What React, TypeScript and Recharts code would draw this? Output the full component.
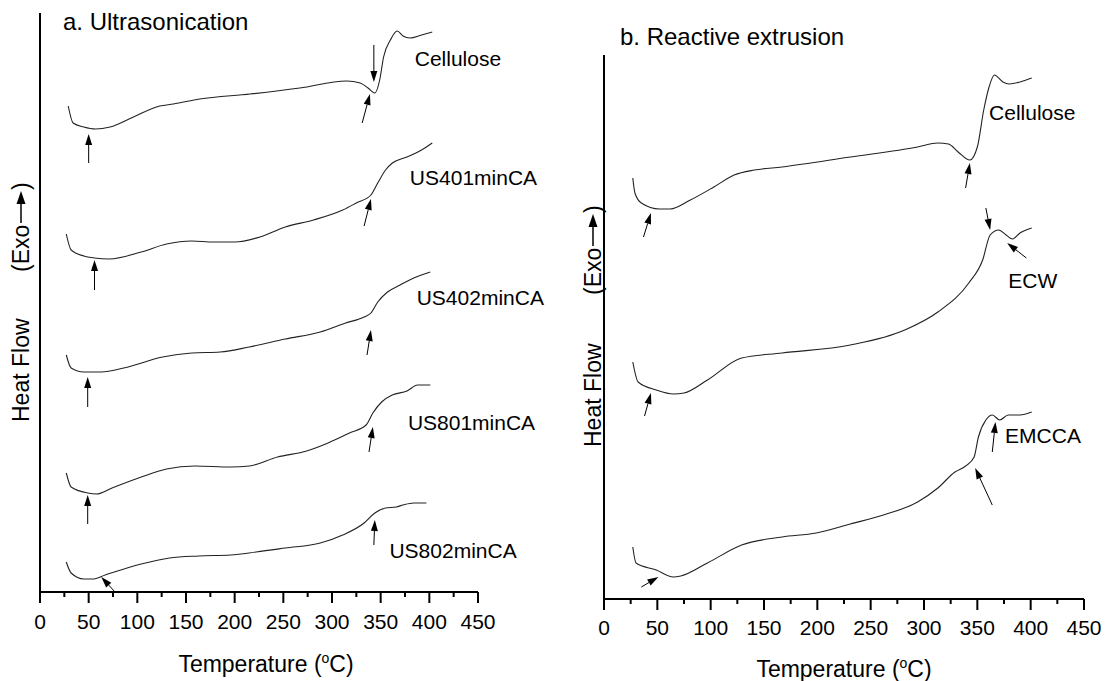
import React from 'react';
import { LineChart, Line, XAxis, YAxis, ReferenceLine, ReferenceDot } from 'recharts';

const FONT = '"Liberation Sans", Arial, Helvetica, sans-serif';

type Row = [number, number];

// temperature axis, minor ticks every 25 °C, labelled every 50 °C
const tempTicks = [0, 25, 50, 75, 100, 125, 150, 175, 200, 225, 250, 275, 300, 325, 350, 375, 400, 425, 450];

// (a) ultrasonication – [temperature °C, heat flow a.u.], traces stacked
const usCellulose: Row[] = [
  [29, 486], [34, 469], [45, 465], [57, 463], [72, 465], [96, 475], [123, 486], [137, 488],
  [164, 493], [216, 498], [267, 504], [315, 511], [329, 509], [337, 504], [344, 499], [349, 512],
  [353, 535], [360, 552], [367, 561], [373, 556], [380, 554], [392, 557], [403, 560],
];
const us401: Row[] = [
  [27, 358], [32, 342], [45, 336], [56, 334], [71, 333], [104, 340], [130, 348], [156, 351],
  [178, 350], [200, 350], [226, 355], [252, 365], [281, 372], [311, 382], [325, 389], [340, 397],
  [347, 409], [355, 422], [362, 429], [377, 435], [392, 442], [403, 449],
];
const us402: Row[] = [
  [27, 237], [32, 224], [45, 220], [63, 220], [86, 224], [126, 235], [156, 239], [185, 240],
  [215, 245], [252, 253], [288, 260], [314, 269], [333, 275], [340, 279], [347, 290], [357, 300],
  [370, 307], [384, 314], [401, 320],
];
const us801: Row[] = [
  [27, 119], [32, 105], [49, 99], [58, 98], [74, 104], [104, 115], [130, 123], [159, 126],
  [196, 125], [215, 126], [244, 135], [274, 141], [296, 149], [318, 159], [335, 167], [342, 179],
  [351, 190], [362, 197], [377, 201], [388, 207], [401, 207],
];
const us802: Row[] = [
  [27, 30], [32, 19], [45, 13], [54, 13], [67, 17], [104, 28], [133, 34], [163, 36],
  [196, 37], [222, 40], [252, 44], [288, 49], [311, 57], [333, 69], [344, 79], [355, 84],
  [366, 85], [373, 87], [384, 89], [397, 89],
];

// (b) reactive extrusion
const reCellulose: Row[] = [
  [27, 421], [29, 406], [35, 396], [52, 390], [62, 390], [81, 399], [103, 412], [122, 424],
  [141, 429], [167, 432], [231, 442], [294, 452], [313, 456], [323, 455], [332, 447], [343, 439],
  [350, 452], [356, 489], [361, 512], [366, 524], [374, 517], [380, 515], [390, 517], [401, 521],
];
const reEcw: Row[] = [
  [27, 237], [32, 217], [49, 209], [65, 205], [75, 206], [97, 219], [129, 241], [167, 246],
  [231, 254], [282, 269], [313, 287], [342, 316], [355, 339], [362, 364], [370, 369], [377, 364],
  [383, 360], [390, 366], [401, 371],
];
const reEmcca: Row[] = [
  [27, 52], [30, 36], [49, 29], [65, 22], [72, 23], [97, 36], [129, 54], [167, 62],
  [199, 66], [231, 75], [262, 84], [294, 97], [313, 111], [329, 127], [339, 133], [347, 142],
  [351, 162], [358, 179], [364, 184], [371, 179], [379, 184], [390, 184], [401, 187],
];

// arrows marking transitions: [tail T, tail hf, tip T, tip hf]
const usArrows: [number, number, number, number][] = [
  [50, 429, 50, 458], [343, 547, 343, 510], [331, 469, 339, 498],
  [56, 302, 56, 332], [333, 366, 340, 393],
  [49, 185, 49, 215], [336, 237, 340, 262],
  [49, 68, 49, 97], [338, 140, 342, 165],
  [78, -1, 63, 15], [343, 47, 344, 72],
];
const reArrows: [number, number, number, number][] = [
  [37, 362, 44, 386], [339, 411, 343, 436],
  [38, 183, 44, 206], [358, 391, 362, 369], [396, 341, 378, 356],
  [35, 12, 51, 22], [364, 94, 348, 131], [364, 147, 367, 177],
];

// curve names
const usNames = ['Cellulose', 'US401minCA', 'US402minCA', 'US801minCA', 'US802minCA'];
const usNameAt: Row[] = [[385, 534], [380, 415], [387, 295], [378, 170], [359, 42]];
const reNames = ['Cellulose', 'ECW', 'EMCCA'];
const reNameAt: Row[] = [[361, 487], [379, 319], [376, 164]];

const toPts = (rows: Row[]) => rows.map(([t, hf]) => ({ t, hf }));

const TempTick = (props: any) => {
  const { x, y, payload, labelDy } = props;
  const major = payload.value % 50 === 0;
  return (
    <g>
      <line x1={x} y1={y} x2={x} y2={y + (major ? 11 : 5)} stroke="#000" strokeWidth={2} />
      {major && (
        <text x={x} y={y + labelDy} textAnchor="middle" fontSize={21} fontFamily={FONT} fill="#000">
          {payload.value}
        </text>
      )}
    </g>
  );
};

const TempTitle = (props: any) => {
  const { viewBox, cx, dy } = props;
  const vb = viewBox || { x: 0, y: 0 };
  return (
    <text x={vb.x + cx} y={vb.y + dy} textAnchor="middle" fontSize={23} fontFamily={FONT} fill="#000">
      Temperature (<tspan dy={-9} fontSize={14}>o</tspan><tspan dy={9}>C)</tspan>
    </text>
  );
};

const HeatFlowLabel = (props: any) => {
  const { bx, heatStart, exoStart } = props;
  return (
    <g fontFamily={FONT} fontSize={23} fill="#000">
      <text transform={`translate(${bx},${heatStart}) rotate(-90)`}>Heat Flow</text>
      <g transform={`translate(${bx},${exoStart}) rotate(-90)`}>
        <text x={0} y={0}>(Exo</text>
        <line x1={49} y1={-8} x2={70} y2={-8} stroke="#000" strokeWidth={1.5} />
        <polygon points="81,-8 68,-12.5 68,-3.5" fill="#000" />
        <text x={82} y={0}>)</text>
      </g>
    </g>
  );
};

const Arrow = (p: any) => {
  const { x1, y1, x2, y2 } = p;
  const dx = x2 - x1;
  const dy = y2 - y1;
  const len = Math.hypot(dx, dy) || 1;
  const ux = dx / len;
  const uy = dy / len;
  const hl = 11;
  const hw = 3.5;
  const bx = x2 - ux * hl;
  const by = y2 - uy * hl;
  return (
    <g>
      <line x1={x1} y1={y1} x2={bx} y2={by} stroke="#000" strokeWidth={1} />
      <polygon
        points={`${x2},${y2} ${bx - uy * hw},${by + ux * hw} ${bx + uy * hw},${by - ux * hw}`}
        fill="#000"
      />
    </g>
  );
};

const nameShape = (name: string) => (p: any) => (
  <text x={p.cx} y={p.cy} dominantBaseline="central" fontSize={21} fontFamily={FONT} fill="#000">
    {name}
  </text>
);

type PanelProps = {
  width: number;
  height: number;
  marginTop: number;
  marginRight: number;
  yAxisWidth: number;
  xAxisHeight: number;
  yMax: number;
  curves: Row[][];
  arrows: [number, number, number, number][];
  names: string[];
  nameAt: Row[];
  tickDy: number;
  titleDx: number;
  titleDy: number;
  labelX: number;
  heatStart: number;
  exoStart: number;
};

const DscPanel = (p: PanelProps) => (
  <LineChart
    width={p.width}
    height={p.height}
    margin={{ top: p.marginTop, right: p.marginRight, bottom: 0, left: 0 }}
  >
    <XAxis
      type="number"
      dataKey="t"
      domain={[0, 450]}
      ticks={tempTicks}
      interval={0}
      allowDataOverflow
      height={p.xAxisHeight}
      tickSize={0}
      tickMargin={0}
      tickLine={false}
      axisLine={{ stroke: '#000', strokeWidth: 2 }}
      tick={<TempTick labelDy={p.tickDy} />}
      label={<TempTitle cx={p.titleDx} dy={p.titleDy} />}
    />
    <YAxis
      type="number"
      dataKey="hf"
      domain={[0, p.yMax]}
      allowDataOverflow
      width={p.yAxisWidth}
      tick={false}
      tickLine={false}
      axisLine={{ stroke: '#000', strokeWidth: 2 }}
      label={<HeatFlowLabel bx={p.labelX} heatStart={p.heatStart} exoStart={p.exoStart} />}
    />
    {p.curves.map((rows, i) => (
      <Line
        key={i}
        data={toPts(rows)}
        dataKey="hf"
        type="monotone"
        stroke="#222"
        strokeWidth={1.1}
        dot={false}
        activeDot={false}
        isAnimationActive={false}
      />
    ))}
    {p.arrows.map(([t1, h1, t2, h2], i) => (
      <ReferenceLine
        key={`a${i}`}
        segment={[{ x: t1, y: h1 }, { x: t2, y: h2 }]}
        ifOverflow="visible"
        shape={Arrow}
      />
    ))}
    {p.names.map((name, i) => (
      <ReferenceDot
        key={`n${i}`}
        x={p.nameAt[i][0]}
        y={p.nameAt[i][1]}
        r={0}
        ifOverflow="visible"
        shape={nameShape(name)}
      />
    ))}
  </LineChart>
);

const titleStyle: React.CSSProperties = {
  position: 'absolute',
  fontSize: 24,
  lineHeight: '24px',
  whiteSpace: 'nowrap',
  color: '#000',
};

export default function App() {
  return (
    <div
      style={{
        position: 'absolute',
        left: 0,
        top: 0,
        width: 1111,
        height: 681,
        background: '#fff',
        fontFamily: FONT,
        overflow: 'hidden',
      }}
    >
      <div style={{ position: 'absolute', left: 0, top: 0 }}>
        <DscPanel
          width={560}
          height={681}
          marginTop={13}
          marginRight={82}
          yAxisWidth={40}
          xAxisHeight={89}
          yMax={579}
          curves={[usCellulose, us401, us402, us801, us802]}
          arrows={usArrows}
          names={usNames}
          nameAt={usNameAt}
          tickDy={37}
          titleDx={226}
          titleDy={80}
          labelX={29}
          heatStart={422}
          exoStart={272}
        />
      </div>
      <div style={{ position: 'absolute', left: 560, top: 0 }}>
        <DscPanel
          width={551}
          height={681}
          marginTop={55}
          marginRight={27}
          yAxisWidth={44}
          xAxisHeight={82}
          yMax={544}
          curves={[reCellulose, reEcw, reEmcca]}
          arrows={reArrows}
          names={reNames}
          nameAt={reNameAt}
          tickDy={36}
          titleDx={240}
          titleDy={78}
          labelX={41}
          heatStart={447}
          exoStart={295}
        />
      </div>
      <div style={{ ...titleStyle, left: 63, top: 10 }}>a. Ultrasonication</div>
      <div style={{ ...titleStyle, left: 620, top: 25 }}>b. Reactive extrusion</div>
    </div>
  );
}
